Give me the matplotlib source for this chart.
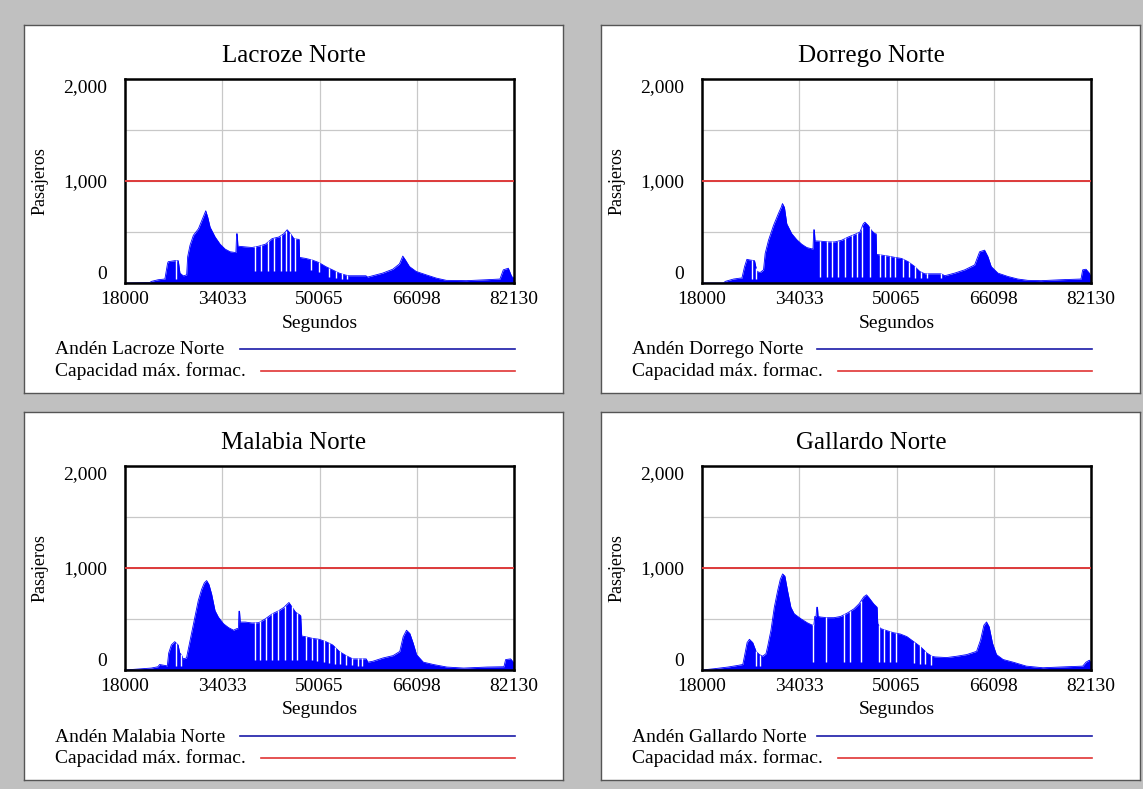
import numpy as np
import matplotlib.pyplot as plt

plt.rcParams['font.family'] = ['Liberation Serif', 'DejaVu Serif']

# ejes comunes
x_ticks = [18000, 34033, 50065, 66098, 82130]
y_ticks = [0, 500, 1000, 1500, 2000]
y_labels = ["0", "", "1,000", "", "2,000"]
capacidad = 1000

estaciones = ["Lacroze Norte", "Dorrego Norte", "Malabia Norte", "Gallardo Norte"]

# Andén Lacroze Norte (envolvente)
lacroze_t = [18000, 22088, 22364, 23469, 24574, 25015, 25126, 26231, 26783, 27059, 27612, 28164,
             28330, 28717, 29269, 30098, 30650, 31092, 31313, 31644, 32031, 32860, 33688, 34517,
             35345, 36063, 36284, 36400, 36500, 36616, 37831, 38936, 40041, 41146, 42250, 43355,
             44184, 44736, 45289, 45841, 46559, 46700, 46780, 47775, 48879, 49984, 51089, 52194,
             53298, 54403, 54956, 57718, 57994, 58822, 60480, 62137, 63242, 63794, 64236, 64899,
             66004, 67661, 69318, 70975, 74290, 77604, 79814, 80366, 81195, 81747, 82130]
lacroze_v = [0, 5, 16, 32, 39, 193, 209, 219, 219, 97, 70, 80,
             258, 370, 467, 531, 612, 676, 708, 644, 547, 451, 380, 332,
             306, 300, 300, 483, 483, 361, 354, 348, 361, 380, 435, 451,
             483, 522, 483, 435, 428, 428, 251, 241, 225, 200, 161, 129,
             97, 77, 71, 71, 58, 71, 97, 135, 187, 264, 225, 161,
             113, 80, 48, 26, 23, 32, 39, 129, 145, 64, 48]
lacroze_gaps = [26341, 39378, 40483, 41588, 42582, 43687, 44460, 45233, 46007, 48603, 49984,
                51641, 52746, 53740, 54680]
lacroze_floor = [40, 120, 120, 120, 120, 120, 120, 120, 120, 130, 110, 60, 50, 40, 40]

# Andén Dorrego Norte
dorrego_t = [18000, 21563, 21837, 23207, 24303, 24577, 25016, 25399, 25947, 26660, 27044, 27592,
             28140, 28414, 28962, 29784, 30606, 31045, 31264, 31593, 31977, 32799, 33621, 34443,
             35265, 36087, 36300, 36420, 36520, 36635, 36909, 37732, 38828, 39924, 41020, 42116,
             43213, 44035, 44583, 44857, 45405, 45953, 46501, 46700, 46775, 47597, 48694, 49790,
             50886, 51982, 53078, 53901, 54723, 57463, 58011, 59656, 61300, 62944, 63766, 64589,
             65137, 65685, 66781, 68425, 70070, 71714, 73906, 77195, 80483, 80757, 81305, 81852,
             82130]
dorrego_v = [0, 0, 16, 39, 48, 48, 161, 232, 225, 219, 113, 103,
             129, 290, 419, 564, 683, 741, 779, 741, 580, 483, 425, 380,
             348, 335, 335, 522, 522, 412, 412, 409, 403, 403, 419, 451,
             477, 499, 580, 596, 564, 515, 483, 483, 280, 274, 264, 251,
             241, 209, 161, 113, 90, 90, 71, 97, 129, 177, 306, 322,
             258, 161, 97, 64, 39, 26, 23, 32, 39, 129, 135, 97,
             60]
dorrego_gaps = [26222, 26934, 37458, 38554, 39486, 40472, 41568, 42665, 43596, 44309, 45679,
                47323, 48146, 48968, 49790, 51160, 52147, 53078, 54175, 55161, 57463]
dorrego_floor = [40, 40, 60, 60, 60, 60, 60, 60, 60, 60, 60,
                 60, 60, 60, 60, 55, 55, 50, 50, 45, 45]

# Andén Malabia Norte
malabia_t = [18000, 20935, 22320, 23427, 23704, 24535, 24978, 25199, 25642, 26196, 26750, 27027,
             27304, 27581, 28135, 28411, 28965, 29519, 30073, 30627, 31070, 31457, 31845, 32288,
             32842, 33396, 34226, 35057, 35888, 36442, 36700, 36780, 36880, 36995, 37826, 38934,
             40041, 41149, 42256, 43364, 44195, 44749, 45025, 45579, 46133, 46964, 47130, 47794,
             48902, 50010, 51117, 52225, 53332, 54440, 55548, 57763, 58040, 58870, 60532, 62193,
             63301, 63855, 64408, 64962, 65516, 66070, 67177, 68839, 71054, 73823, 77700, 80469,
             80746, 81576, 82019, 82130]
malabia_v = [0, 13, 19, 32, 54, 45, 40, 166, 246, 278, 246, 166,
             150, 109, 118, 198, 358, 519, 679, 790, 854, 877, 838, 743,
             582, 518, 454, 416, 390, 406, 406, 576, 576, 470, 470, 461,
             464, 502, 550, 582, 614, 646, 662, 614, 566, 534, 333, 326,
             310, 301, 278, 246, 182, 141, 109, 109, 77, 86, 118, 141,
             182, 326, 390, 358, 262, 150, 77, 54, 29, 19, 29, 32,
             102, 109, 77, 60]
malabia_gaps = [26473, 27193, 39377, 40318, 41260, 42256, 43253, 44361, 45468, 46410, 47794,
                48791, 49733, 50730, 51671, 52668, 53443, 54440, 55437, 56378, 57098]
malabia_floor = [40, 40, 100, 100, 100, 100, 100, 100, 100, 100, 100,
                 100, 90, 80, 70, 60, 55, 50, 45, 40, 40]

# Andén Gallardo Norte
gallardo_t = [18000, 20077, 22264, 23904, 24724, 24998, 25435, 25818, 26365, 26911, 27458, 28005,
              28551, 28825, 29371, 29918, 30465, 30902, 31285, 31668, 32105, 32652, 33198, 34292,
              35385, 36205, 36450, 36588, 36800, 36916, 37040, 37135, 37572, 38665, 39759, 40852,
              41945, 43039, 43859, 44679, 45116, 45499, 46319, 46866, 46975, 47412, 48506, 49599,
              50693, 51786, 52879, 53973, 55066, 55886, 56433, 58346, 59987, 61627, 63267, 63923,
              64470, 64907, 65344, 65891, 66547, 67640, 69280, 71467, 74201, 76935, 80762, 81309,
              81856, 82130]
gallardo_v = [0, 13, 29, 45, 54, 135, 269, 301, 269, 183, 151, 135,
              160, 231, 391, 615, 776, 888, 942, 920, 776, 615, 551, 503,
              462, 439, 445, 525, 525, 615, 615, 525, 519, 513, 513, 525,
              558, 599, 647, 718, 737, 711, 647, 615, 455, 407, 385, 365,
              353, 327, 279, 231, 167, 135, 128, 122, 135, 151, 183, 295,
              439, 471, 423, 263, 151, 103, 77, 38, 22, 29, 38, 77,
              96, 70]
gallardo_gaps = [26911, 27622, 36369, 38392, 41399, 42383, 44133, 47139, 48069, 49053, 50037,
                 52989, 53864, 54793, 55722]
gallardo_floor = [40, 40, 80, 80, 80, 80, 80, 80, 80, 80, 80, 70, 60, 55, 50]

series = [
    (lacroze_t, lacroze_v, lacroze_gaps, lacroze_floor),
    (dorrego_t, dorrego_v, dorrego_gaps, dorrego_floor),
    (malabia_t, malabia_v, malabia_gaps, malabia_floor),
    (gallardo_t, gallardo_v, gallardo_gaps, gallardo_floor),
]

W, H = 1143, 789
PW, PH = 539, 368


def px_rect(x0, y0, x1, y1):
    return [x0 / W, 1 - y1 / H, (x1 - x0) / W, (y1 - y0) / H]


fig = plt.figure(figsize=(W / 100, H / 100), dpi=100, facecolor='#c0c0c0')

paneles = [(24, 25), (601, 25), (24, 412), (601, 412)]

for (px, py), nombre, (t, v, gaps, floor) in zip(paneles, estaciones, series):
    # recuadro blanco de cada gráfico (coordenadas en pixeles)
    pan = fig.add_axes(px_rect(px, py, px + PW, py + PH), zorder=0)
    pan.set_xlim(px, px + PW)
    pan.set_ylim(py + PH, py)
    pan.set_xticks([])
    pan.set_yticks([])
    for s in pan.spines.values():
        s.set_color('#555555')
        s.set_linewidth(1)
    pan.text(px + 270, py + 31, nombre, ha='center', va='center', fontsize=18)
    pan.text(px + 31, py + 325, 'Andén ' + nombre, ha='left', va='center', fontsize=14)
    pan.text(px + 31, py + 346, 'Capacidad máx. formac.', ha='left', va='center', fontsize=14)
    pan.plot([px + 216, px + 491], [py + 324, py + 324], color='#1a1aa8', lw=1.2)
    pan.plot([px + 237, px + 491], [py + 346, py + 346], color='#e03535', lw=1.2)

    ax = fig.add_axes(px_rect(px + 101, py + 54, px + 490, py + 258), zorder=1)
    ax.fill_between(t, 0, v, color='#0000ff', lw=0, zorder=2)
    ax.plot(t, v, color='#0000ff', lw=0.6, zorder=2)
    ax.vlines(gaps, floor, np.interp(gaps, t, v) + 5, color='white', lw=1.0, zorder=3)
    ax.axhline(capacidad, color='#dd3a3a', lw=1.4, zorder=3)

    ax.set_xlim(x_ticks[0], x_ticks[-1])
    ax.set_ylim(0, 2000)
    ax.set_xticks(x_ticks)
    ax.set_xticklabels([str(x) for x in x_ticks], fontsize=14)
    ax.set_yticks(y_ticks)
    ax.set_yticklabels(y_labels, fontsize=14)
    labels = ax.get_yticklabels()
    labels[0].set_va('bottom')
    labels[-1].set_va('top')
    ax.tick_params(axis='y', length=0, pad=13)
    ax.tick_params(axis='x', length=0, pad=6)
    ax.grid(True, color='#c8c8c8', lw=0.9)
    ax.set_axisbelow(True)
    for s in ax.spines.values():
        s.set_linewidth(1.8)
        s.set_color('black')
    ax.set_ylabel('Pasajeros', fontsize=13, va='center')
    ax.yaxis.set_label_coords(-85 / 389, 0.5)
    ax.set_xlabel('Segundos', fontsize=14, va='center')
    ax.xaxis.set_label_coords(0.5, -40 / 204)

fig.savefig('out.png', dpi=100, facecolor=fig.get_facecolor())
